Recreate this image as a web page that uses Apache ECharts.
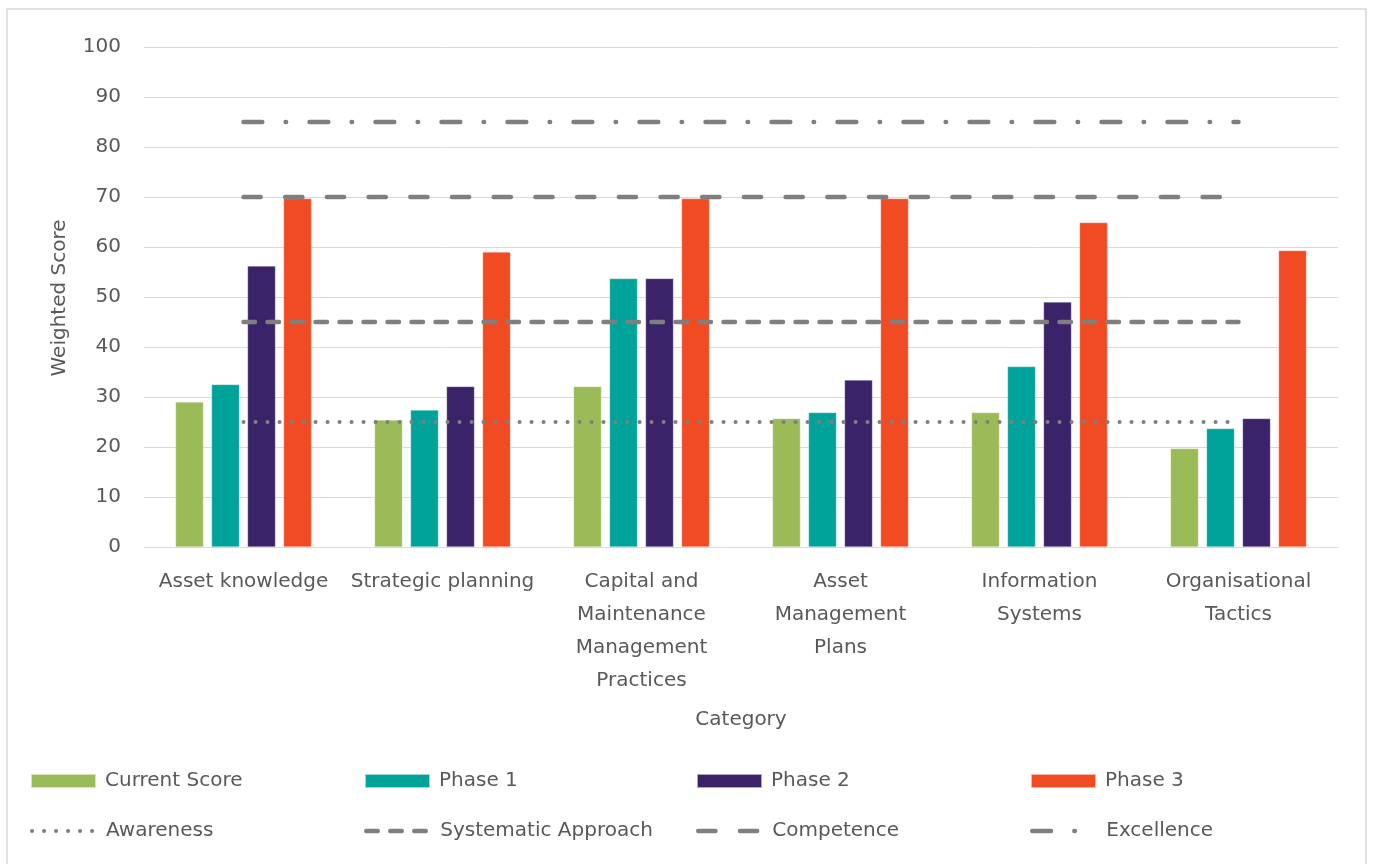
<!DOCTYPE html>
<html>
<head>
<meta charset="utf-8">
<title>Weighted Score by Category</title>
<script src="https://cdn.jsdelivr.net/npm/echarts@6/dist/echarts.min.js"></script>
<style>
  html, body { margin: 0; padding: 0; background: #ffffff; }
  #chart { width: 1374px; height: 864px; }
</style>
</head>
<body>
<div id="chart"></div>
<script>
// Categories (line breaks follow the wrapped axis labels)
const categories = [
  'Asset knowledge',
  'Strategic planning',
  'Capital and\nMaintenance\nManagement\nPractices',
  'Asset\nManagement\nPlans',
  'Information\nSystems',
  'Organisational\nTactics'
];

// Bar series
const currentScore = [29, 25.4, 32.1, 25.7, 26.9, 19.7];
const phase1 = [32.5, 27.4, 53.7, 26.9, 36.1, 23.7];
const phase2 = [56.2, 32.1, 53.7, 33.4, 49, 25.7];
const phase3 = [69.7, 59, 69.7, 69.7, 64.9, 59.3];

// Maturity threshold lines
const awareness = [25, 25, 25, 25, 25, 25];
const systematicApproach = [45, 45, 45, 45, 45, 45];
const competence = [70, 70, 70, 70, 70, 70];
const excellence = [85, 85, 85, 85, 85, 85];

// Value axis ticks
const yMin = 0, yMax = 100, yStep = 10;

const FONT = 'DejaVu Sans';
const FS = 20;
const TXT = '#595959';
const GREY = '#7f7f7f';

const chart = echarts.init(document.getElementById('chart'), null, { renderer: 'canvas' });

function barSeries(name, data, color) {
  return {
    name, type: 'bar', data,
    barWidth: 28, barGap: '28.6%',
    itemStyle: { color, borderColor: 'rgba(255,255,255,0.6)', borderWidth: 0.5 },
    emphasis: { disabled: true }
  };
}

function refLine(name, data, dash, width) {
  return {
    name, type: 'line', data,
    symbol: 'none', silent: true,
    lineStyle: { color: GREY, width, type: dash, cap: 'round' },
    itemStyle: { color: GREY },
    z: 5
  };
}

const legendText = { fontFamily: FONT, fontSize: FS, color: TXT, padding: [0, 0, 0, 4] };

// Bar legend entry: plain square-cornered swatch
function barLegend(name, left, top) {
  return {
    data: [{ name, icon: 'rect' }], left, top, padding: 0,
    itemWidth: 65, itemHeight: 14, selectedMode: false,
    textStyle: legendText
  };
}

// Line legend entry: the dash pattern only, no marker
function lineLegend(name, left, top, width) {
  return {
    data: [name], left, top, padding: 0,
    itemWidth: 65, itemHeight: 14, selectedMode: false,
    itemStyle: { color: 'rgba(0,0,0,0)', borderWidth: 0, opacity: 0 },
    lineStyle: { width },
    textStyle: legendText
  };
}

const colX = [30, 364, 696, 1030];
const rowY = [771, 821];

chart.setOption({
  backgroundColor: '#ffffff',
  animation: false,
  grid: { left: 144, right: 36, top: 47, bottom: 317, containLabel: false },
  legend: [
    barLegend('Current Score', colX[0], rowY[0]),
    barLegend('Phase 1', colX[1], rowY[0]),
    barLegend('Phase 2', colX[2], rowY[0]),
    barLegend('Phase 3', colX[3], rowY[0]),
    lineLegend('Awareness', colX[0], rowY[1], 4),
    lineLegend('Systematic Approach', colX[1], rowY[1], 4.5),
    lineLegend('Competence', colX[2], rowY[1], 4.5),
    lineLegend('Excellence', colX[3], rowY[1], 4.5)
  ],
  xAxis: {
    type: 'category',
    data: categories,
    axisLine: { lineStyle: { color: '#d9d9d9', width: 1 } },
    axisTick: { show: false },
    axisLabel: {
      fontFamily: FONT, fontSize: FS, color: TXT,
      lineHeight: 33, margin: 18, interval: 0, align: 'center'
    }
  },
  yAxis: {
    type: 'value',
    min: yMin, max: yMax, interval: yStep,
    axisLine: { show: false },
    axisTick: { show: false },
    axisLabel: { fontFamily: FONT, fontSize: FS, color: TXT, margin: 23 },
    splitLine: { lineStyle: { color: '#d9d9d9', width: 1 } }
  },
  graphic: [
    {
      type: 'rect', silent: true,
      shape: { x: 7, y: 9, width: 1359, height: 870 },
      style: { fill: 'none', stroke: '#d9d9d9', lineWidth: 1.5 }
    },
    {
      type: 'text', silent: true,
      x: 60, y: 298, rotation: Math.PI / 2,
      style: {
        text: 'Weighted Score', fontFamily: FONT, fontSize: FS, fill: TXT,
        align: 'center', verticalAlign: 'middle'
      }
    },
    {
      type: 'text', silent: true,
      x: 741, y: 720,
      style: {
        text: 'Category', fontFamily: FONT, fontSize: FS, fill: TXT,
        align: 'center', verticalAlign: 'middle'
      }
    }
  ],
  series: [
    barSeries('Current Score', currentScore, '#9bbb59'),
    barSeries('Phase 1', phase1, '#00a39a'),
    barSeries('Phase 2', phase2, '#3a2368'),
    barSeries('Phase 3', phase3, '#f04b23'),
    refLine('Awareness', awareness, [0.1, 11.9], 4),
    refLine('Systematic Approach', systematicApproach, [11.5, 12.5], 4.5),
    refLine('Competence', competence, [17.2, 24.5], 4.5),
    refLine('Excellence', excellence, [18.8, 23.3, 0.5, 23.4], 4.5)
  ]
});
</script>
</body>
</html>
